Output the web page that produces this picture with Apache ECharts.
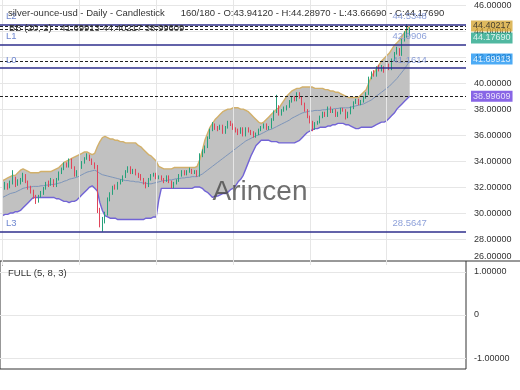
<!DOCTYPE html>
<html><head><meta charset="utf-8">
<script src="https://cdn.jsdelivr.net/npm/echarts@6/dist/echarts.min.js"></script>
<style>html,body{margin:0;padding:0;background:#fff}#c{width:520px;height:390px}</style>
</head><body><div id="c"></div>
<script>
// ---- data ----
const symbolName = 'silver-ounce-usd';
const barInfo = '160/180';
const opens = [
31.7,31.9,32.2,32.0,32.3,32.6,32.2,32.4,32.5,32.9,
32.4,31.9,31.6,31.2,30.9,31.3,31.5,31.9,32.3,32.2,
32.5,32.1,32.6,33.1,33.4,33.8,33.6,34.1,33.5,32.9,
33.2,33.5,33.9,34.2,34.4,34.1,33.8,33.6,30.2,29.1,
29.4,29.9,31.0,31.5,32.0,31.9,32.3,32.5,32.8,33.2,
33.5,33.1,33.3,33.0,32.9,32.6,32.3,32.1,32.6,32.9,
33.0,32.7,32.8,32.6,32.5,32.8,32.4,32.0,32.3,32.5,
32.9,33.2,33.0,33.2,33.3,33.1,33.2,32.9,34.5,34.8,
35.1,35.8,36.4,36.8,36.6,36.5,36.7,36.2,36.6,37.0,
36.8,36.5,36.4,36.2,36.5,36.0,36.5,36.3,36.2,35.9,
36.1,36.4,36.6,36.8,36.5,36.6,37.2,37.8,38.2,37.6,
37.9,38.1,38.2,38.6,38.9,38.7,39.2,38.9,38.4,37.9,
37.4,37.0,36.5,36.9,37.0,37.4,37.7,37.5,38.1,37.8,
37.9,37.5,37.7,38.0,37.9,37.4,37.7,38.1,38.5,38.7,
38.4,38.6,38.9,39.2,40.4,40.8,40.6,41.2,41.0,41.2,
40.9,41.4,41.1,41.8,42.3,42.6,42.2,43.3,43.9,43.9412];
const highs = [
32.1,32.4,32.3,32.5,33.3,32.8,32.6,32.7,33.1,33.0,
32.5,32.1,31.8,31.4,31.4,31.7,32.0,32.4,32.5,32.7,
32.6,32.7,33.2,33.5,33.9,33.9,34.2,34.2,33.6,33.3,
33.6,34.0,34.3,34.6,34.5,34.2,33.9,33.7,30.4,29.7,
30.1,31.2,31.6,32.1,32.2,32.4,32.6,32.9,33.3,33.6,
33.6,33.4,33.4,33.1,33.0,32.7,32.4,32.7,33.0,33.1,
33.1,32.9,32.9,32.7,32.9,32.9,32.5,32.4,32.6,33.0,
33.3,33.3,33.3,33.5,33.4,33.3,33.3,34.6,34.9,35.2,
35.9,36.5,37.0,36.9,36.7,36.8,36.8,36.7,37.1,37.1,
36.9,36.6,36.5,36.6,36.6,36.6,36.6,36.4,36.3,36.2,
36.5,36.7,36.9,36.9,36.7,37.3,37.9,39.1,38.3,38.0,
38.2,38.3,38.7,39.0,39.0,39.3,39.3,39.0,38.5,38.0,
37.5,37.1,37.0,37.1,37.5,37.8,37.8,38.2,38.2,38.0,
38.0,37.8,38.1,38.1,38.0,37.8,38.2,38.6,38.8,38.8,
38.7,39.0,39.3,40.5,40.9,41.0,41.3,41.4,41.4,41.3,
41.5,41.5,41.9,42.4,42.8,42.7,43.4,44.0,44.5348,44.2897];
const lows = [
31.5,31.8,31.8,31.9,32.2,32.0,32.1,32.2,32.4,32.3,
31.8,31.5,31.1,30.7,30.8,31.2,31.4,31.8,32.0,32.1,
32.0,32.0,32.5,33.0,33.3,33.5,33.5,33.4,32.8,32.8,
33.1,33.4,33.8,34.1,34.0,33.7,33.4,30.0,28.9,28.5647,
29.2,29.8,30.9,31.4,31.8,31.8,32.2,32.4,32.7,33.1,
33.0,33.0,32.9,32.7,32.5,32.2,31.9,32.0,32.5,32.8,
32.6,32.6,32.5,32.3,32.4,32.3,31.9,31.9,32.2,32.4,
32.8,32.9,32.9,33.1,33.0,33.0,32.8,32.8,34.3,34.6,
35.0,35.7,36.3,36.4,36.3,36.4,36.1,36.1,36.5,36.7,
36.4,36.2,36.0,36.1,35.9,35.9,36.2,36.0,35.8,35.8,
36.0,36.3,36.5,36.4,36.4,36.5,37.1,37.7,37.5,37.5,
37.8,37.9,38.1,38.5,38.6,38.6,38.8,38.3,37.8,37.3,
36.9,36.3,36.4,36.8,36.9,37.3,37.4,37.4,37.7,37.7,
37.4,37.4,37.6,37.8,37.2,37.3,37.6,38.0,38.4,38.3,
38.3,38.5,38.8,39.1,40.3,40.5,40.5,40.9,40.9,40.8,
40.8,41.0,41.0,41.7,42.2,42.1,42.1,43.2,43.5,43.6669];
const closes = [
31.9,32.2,32.0,32.3,32.6,32.2,32.4,32.5,32.9,32.4,
31.9,31.6,31.2,30.9,31.3,31.5,31.9,32.3,32.2,32.5,
32.1,32.6,33.1,33.4,33.8,33.6,34.1,33.5,32.9,33.2,
33.5,33.9,34.2,34.4,34.1,33.8,33.6,30.2,29.1,29.4,
29.9,31.0,31.5,32.0,31.9,32.3,32.5,32.8,33.2,33.5,
33.1,33.3,33.0,32.9,32.6,32.3,32.1,32.6,32.9,33.0,
32.7,32.8,32.6,32.5,32.8,32.4,32.0,32.3,32.5,32.9,
33.2,33.0,33.2,33.3,33.1,33.2,32.9,34.5,34.8,35.1,
35.8,36.4,36.8,36.6,36.5,36.7,36.2,36.6,37.0,36.8,
36.5,36.4,36.2,36.5,36.0,36.5,36.3,36.2,35.9,36.1,
36.4,36.6,36.8,36.5,36.6,37.2,37.8,38.2,37.6,37.9,
38.1,38.2,38.6,38.9,38.7,39.2,38.9,38.4,37.9,37.4,
37.0,36.5,36.9,37.0,37.4,37.7,37.5,38.1,37.8,37.9,
37.5,37.7,38.0,37.9,37.4,37.7,38.1,38.5,38.7,38.4,
38.6,38.9,39.2,40.4,40.8,40.6,41.2,41.0,41.2,40.9,
41.4,41.1,41.8,42.3,42.6,42.2,43.3,43.9,43.94,44.1769];
const bbUpper = [
32.5,32.6,32.7,32.8,32.9,32.9,33.1,33.3,33.4,33.3,
33.2,33.1,33.1,33.1,33.1,33.2,33.2,33.2,33.2,33.2,
33.3,33.4,33.5,33.7,33.9,34.0,34.1,34.2,34.3,34.4,
34.5,34.6,34.7,34.7,34.6,34.5,34.6,35.1,35.5,35.8,
35.9,35.8,35.7,35.7,35.6,35.6,35.5,35.5,35.4,35.4,
35.4,35.4,35.4,35.2,35.1,34.9,34.7,34.5,34.4,34.2,
34.0,33.6,33.5,33.4,33.4,33.4,33.4,33.5,33.5,33.5,
33.5,33.5,33.5,33.5,33.5,33.5,33.6,34.1,34.8,35.6,
36.1,36.6,36.9,37.2,37.4,37.6,37.8,37.9,38.0,38.0,
38.1,38.1,38.1,38.0,38.0,37.9,37.8,37.6,37.4,37.2,
37.0,36.9,37.0,37.2,37.4,37.6,37.8,38.0,38.1,38.4,
38.7,39.0,39.2,39.4,39.5,39.6,39.6,39.7,39.7,39.7,
39.7,39.7,39.6,39.6,39.6,39.6,39.5,39.5,39.4,39.4,
39.3,39.3,39.2,39.1,39.0,38.9,38.9,38.9,38.9,38.9,
39.1,39.3,39.5,40.0,40.5,40.8,41.1,41.4,41.7,41.9,
42.1,42.3,42.6,42.9,43.1,43.3,43.6,43.9,44.2,44.40217];
const bbMiddle = [
31.2,31.3,31.4,31.5,31.55,31.6,31.7,31.8,31.9,31.95,
32.0,32.0,32.05,32.05,32.05,32.1,32.1,32.15,32.15,32.2,
32.2,32.25,32.3,32.35,32.45,32.5,32.6,32.65,32.7,32.75,
32.85,32.95,33.05,33.15,33.2,33.25,33.3,33.2,33.05,32.95,
32.9,32.85,32.8,32.75,32.7,32.65,32.6,32.55,32.5,32.5,
32.45,32.45,32.4,32.4,32.35,32.3,32.3,32.25,32.25,32.3,
32.35,32.4,32.45,32.5,32.5,32.55,32.55,32.6,32.65,32.65,
32.7,32.7,32.75,32.75,32.8,32.8,32.8,32.9,33.0,33.15,
33.3,33.45,33.6,33.75,33.9,34.05,34.2,34.35,34.5,34.65,
34.8,34.95,35.1,35.25,35.4,35.55,35.65,35.75,35.85,35.95,
36.0,36.1,36.2,36.3,36.4,36.45,36.55,36.65,36.75,36.85,
36.95,37.05,37.15,37.3,37.4,37.5,37.6,37.7,37.75,37.8,
37.85,37.85,37.9,37.9,37.9,37.95,37.95,38.0,38.0,38.0,
38.05,38.05,38.1,38.1,38.1,38.1,38.15,38.2,38.25,38.3,
38.35,38.4,38.5,38.6,38.7,38.85,39.0,39.15,39.3,39.45,
39.6,39.75,39.95,40.15,40.35,40.6,40.85,41.1,41.4,41.69913];
const bbLower = [
29.8,29.9,29.9,30.0,30.0,30.1,30.1,30.2,30.4,30.6,
30.8,31.0,31.2,31.2,31.2,31.2,31.2,31.2,31.2,31.2,
31.2,31.1,31.1,31.0,30.9,30.9,30.8,30.9,30.9,31.0,
31.2,31.4,31.6,31.8,32.0,32.1,31.9,31.7,30.8,30.2,
29.8,29.7,29.6,29.6,29.6,29.5,29.5,29.5,29.5,29.5,
29.5,29.5,29.5,29.5,29.5,29.5,29.6,29.6,29.6,29.7,
29.7,31.0,31.9,31.9,31.9,31.9,31.9,31.9,31.9,31.9,
31.9,31.9,31.9,31.9,31.9,32.0,32.0,32.0,31.9,31.7,
31.6,31.4,31.2,31.3,31.3,31.4,31.5,31.5,31.6,31.8,
31.9,32.1,32.4,32.6,32.9,33.4,33.9,34.4,34.8,35.2,
35.4,35.6,35.6,35.6,35.6,35.5,35.5,35.5,35.4,35.4,
35.4,35.4,35.4,35.4,35.4,35.5,35.6,35.8,36.0,36.2,
36.3,36.4,36.5,36.5,36.6,36.6,36.6,36.7,36.7,36.8,
36.8,36.9,36.9,36.9,36.8,36.8,36.7,36.6,36.5,36.5,
36.6,36.6,36.6,36.6,36.6,36.7,36.8,36.9,37.0,37.0,
37.1,37.3,37.5,37.7,38.0,38.2,38.4,38.6,38.8,38.99609];
const levelNames = ['L2', 'L1', 'L0', 'L3'];
const levelValues = [44.5348, 42.9906, 41.1614, 28.5647];
const tagValues = [44.40217, 44.17690, 41.69913, 38.99609];
const priceTickStep = 2;
const oscTicks = [-1, 0, 1];
const slotCount = 182;

// ---- derived structures for the library ----
const N = closes.length;
const candleData = closes.map((c, i) => [i, opens[i], c, lows[i], highs[i]]);
const upperData = bbUpper.map((v, i) => [i, v]);
const midData = bbMiddle.map((v, i) => [i, v]);
const lowerData = bbLower.map((v, i) => [i, v]);
const last = N - 1;
const titleText = symbolName + ' - Daily - Candlestick      ' + barInfo +
  ' - O:' + opens[last].toFixed(5) + ' - H:' + highs[last].toFixed(5) +
  ' - L:' + lows[last].toFixed(5) + ' - C:' + closes[last].toFixed(5);
const bbText = 'BB (20, 2) - ' + tagValues[2].toFixed(5) + ' ' + tagValues[0].toFixed(5) + ' ' + tagValues[3].toFixed(5);
const vGrid = [0, 30, 60, 90, 120, 150];

const tagStyles = [
  {bg: '#d6a736', fg: '#222', off: [0, 0]},
  {bg: '#26a68a', fg: '#fff', off: [0, 9]},
  {bg: '#2196f3', fg: '#fff', off: [0, -2]},
  {bg: '#6a3fe0', fg: '#fff', off: [0, 0]}
];
const FONT = '"Liberation Sans", Arial, sans-serif';

const chart = echarts.init(document.getElementById('c'), null, {renderer: 'canvas'});
chart.setOption({
  animation: false,
  backgroundColor: '#fff',
  textStyle: {fontFamily: FONT},
  title: [
    {text: titleText, left: 8, top: 8, padding: 0, textStyle: {fontSize: 9.5, fontWeight: 'normal', color: '#333', fontFamily: FONT}},
    {text: bbText, left: 9, top: 23, padding: 0, textStyle: {fontSize: 9.5, fontWeight: 'normal', color: '#333', fontFamily: FONT}},
    {text: 'FULL (5, 8, 3)', left: 8, top: 268, padding: 0, textStyle: {fontSize: 9.5, fontWeight: 'normal', color: '#333', fontFamily: FONT}}
  ],
  grid: [
    {left: 0, right: 54, top: 0, height: 265, show: false},
    {left: 0, right: 54, top: 261, height: 108, show: true, borderColor: '#333', borderWidth: 1, backgroundColor: 'transparent'}
  ],
  xAxis: [
    {type: 'value', gridIndex: 0, min: -1, max: slotCount - 1, show: false},
    {type: 'value', gridIndex: 1, min: -1, max: slotCount - 1, show: false}
  ],
  yAxis: [
    {type: 'value', gridIndex: 0, position: 'right', min: 26, max: 46.4, interval: priceTickStep,
     axisLine: {show: true, lineStyle: {color: '#333', width: 1}},
     axisTick: {show: false},
     splitLine: {show: true, showMinLine: false, showMaxLine: false, lineStyle: {color: '#e6e6e6', width: 1}},
     axisLabel: {show: true, fontSize: 9, color: '#333', margin: 8, showMaxLabel: false, showMinLabel: true,
       formatter: v => Math.abs(v - 26) < 1e-9 ? '{lo|26.00000}' : v.toFixed(5),
       rich: {lo: {fontSize: 9, color: '#333', padding: [0, 0, 16, 0]}}}},
    {type: 'value', gridIndex: 1, position: 'right', min: -1.25, max: 1.25, interval: 0.25,
     axisLine: {show: false}, axisTick: {show: false}, splitLine: {show: false},
     axisLabel: {fontSize: 9, color: '#333', margin: 8, showMinLabel: false, showMaxLabel: false,
       formatter: v => {
         if (!oscTicks.some(t => Math.abs(t - v) < 1e-9)) return '';
         return Math.abs(v) < 1e-9 ? '0' : v.toFixed(5);
       }}}
  ],
  graphic: [
    {type: 'line', shape: {x1: 466, y1: 261, x2: 520, y2: 261}, style: {stroke: '#333', lineWidth: 1}, z: 50},
    {type: 'text', x: 260, y: 192, z: 100, style: {text: 'Arincen', font: '28px ' + FONT, fill: 'rgba(70,70,70,0.78)', textAlign: 'center', textVerticalAlign: 'middle'}}
  ],
  series: [
    {type: 'line', name: 'vgrid', xAxisIndex: 0, yAxisIndex: 0, data: [[0, 30]], symbol: 'none', lineStyle: {width: 0}, z: 1, silent: true,
     markLine: {silent: true, symbol: 'none', animation: false, label: {show: false},
       lineStyle: {color: '#e6e6e6', width: 1, type: 'solid'}, data: vGrid.map(v => ({xAxis: v}))}},
    {type: 'custom', name: 'bbFill', coordinateSystem: 'cartesian2d', xAxisIndex: 0, yAxisIndex: 0,
     data: [[0, bbMiddle[0]]], z: 2, silent: true, clip: false,
     renderItem: (params, api) => {
       const pts = [];
       for (let i = 0; i < N; i++) pts.push(api.coord([i, bbUpper[i]]));
       for (let i = N - 1; i >= 0; i--) pts.push(api.coord([i, bbLower[i]]));
       return {type: 'polygon', shape: {points: pts}, style: {fill: '#c1c1c1', stroke: null}};
     }},
    {type: 'line', name: 'bbUpper', data: upperData, symbol: 'none', lineStyle: {color: '#d2b06a', width: 1.4}, z: 3},
    {type: 'line', name: 'bbMiddle', data: midData, symbol: 'none', lineStyle: {color: '#7d95ba', width: 1}, z: 3},
    {type: 'line', name: 'bbLower', data: lowerData, symbol: 'none', lineStyle: {color: '#7264d6', width: 1.4}, z: 3},
    {type: 'candlestick', name: 'price', data: candleData, barWidth: 1.2, z: 4,
     itemStyle: {color: '#26a17b', color0: '#e0455a', borderColor: '#26a17b', borderColor0: '#e0455a', borderWidth: 1}},
    {type: 'line', name: 'levels', data: [[0, 30]], symbol: 'none', lineStyle: {width: 0}, z: 5, silent: true,
     markLine: {silent: true, symbol: 'none', animation: false,
       data: levelValues.map((v, k) => ({yAxis: v, name: levelNames[k],
         lineStyle: {color: '#2f2f8c', width: 1.5, type: 'solid'},
         label: {show: true, position: 'insideStartTop', formatter: levelNames[k], color: '#7088d0', fontSize: 9.5, distance: [6, 3]}}))
         .concat(tagValues.map(v => ({yAxis: v, lineStyle: {color: '#222', width: 1.2, type: [3, 2]}, label: {show: false}})))}},
    {type: 'scatter', name: 'levelText', data: levelValues.map(v => [last, v]), symbolSize: 0, z: 6, silent: true, clip: false,
     label: {show: true, position: 'top', distance: 3, color: '#7088d0', fontSize: 9.5, formatter: p => p.value[1].toFixed(4)}},
    {type: 'scatter', name: 'tags', data: tagValues.map((v, k) => ({value: [slotCount - 1, v],
       label: {backgroundColor: tagStyles[k].bg, color: tagStyles[k].fg, offset: tagStyles[k].off}})),
     symbolSize: 0, z: 10, silent: true, clip: false,
     label: {show: true, position: 'right', distance: 5, fontSize: 9, lineHeight: 10, padding: [1, 2, 0, 2],
       formatter: p => p.value[1].toFixed(5)}},
    {type: 'line', name: 'oscGrid', xAxisIndex: 1, yAxisIndex: 1, data: [[0, 0]], symbol: 'none', lineStyle: {width: 0}, silent: true,
     markLine: {silent: true, symbol: 'none', animation: false, label: {show: false},
       lineStyle: {color: '#e6e6e6', width: 1, type: 'solid'}, data: oscTicks.map(v => ({yAxis: v}))}}
  ]
});
</script>
</body></html>
